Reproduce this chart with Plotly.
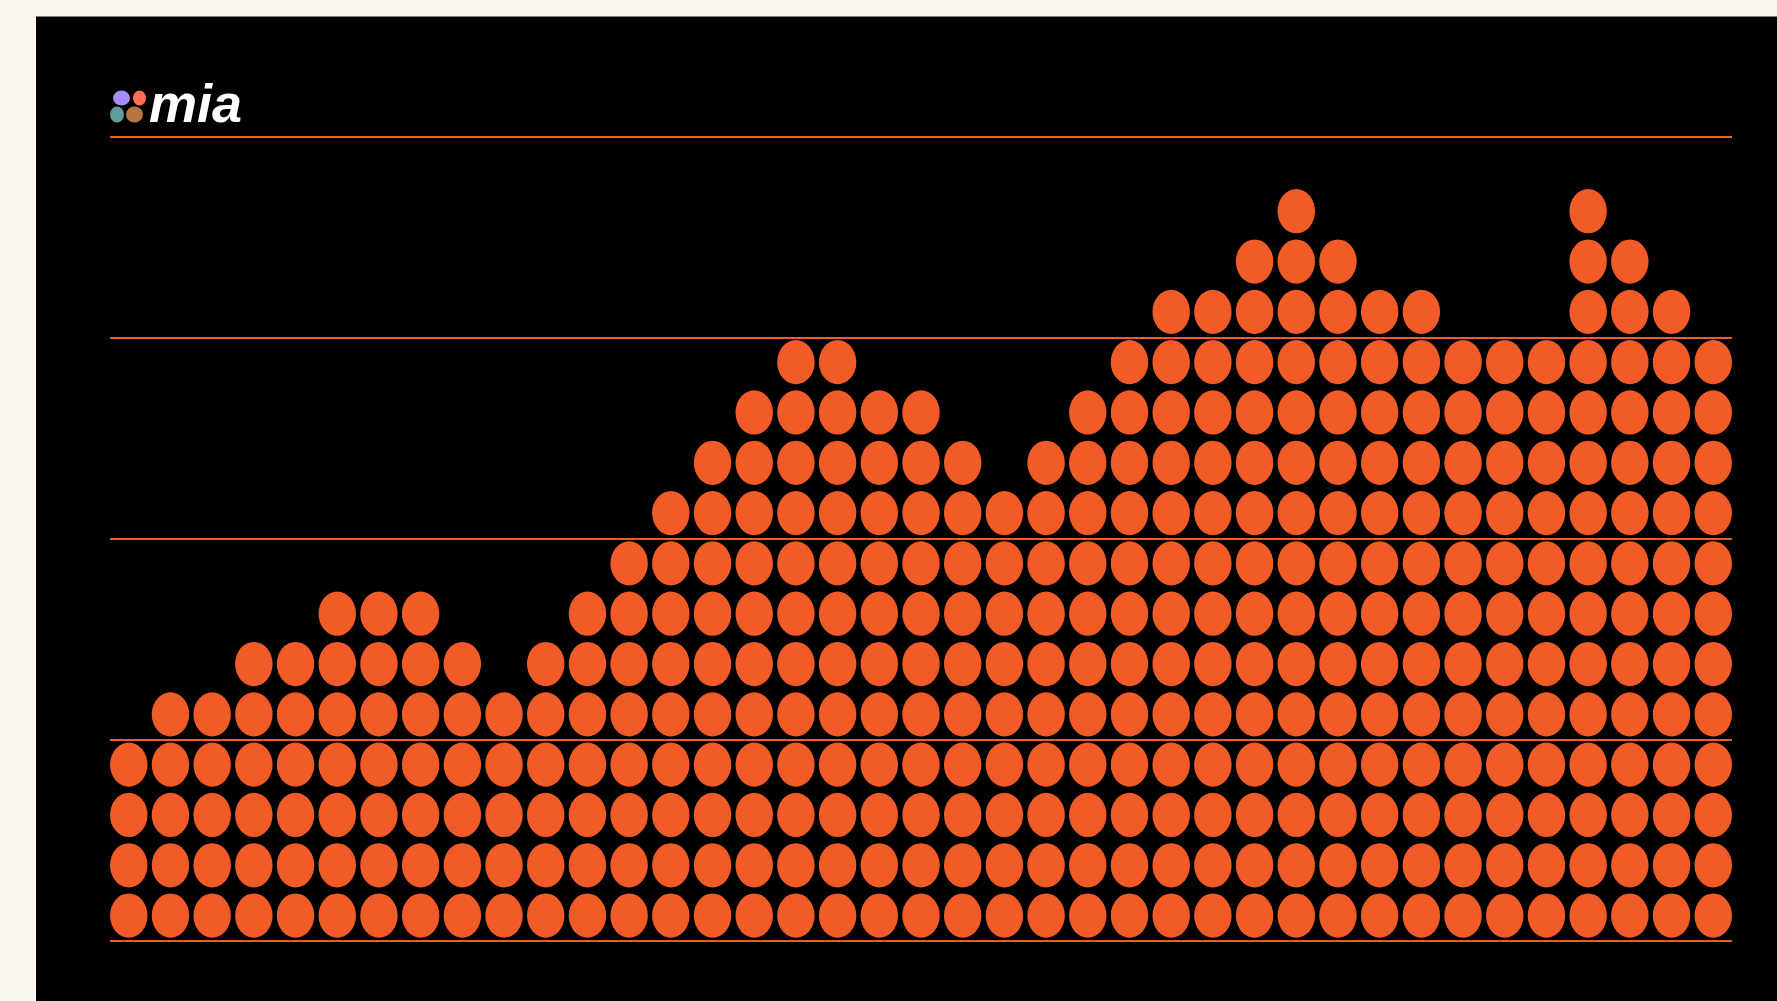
import plotly.graph_objects as go

# ---- data ----
columns = list(range(1, 40))
counts = [4, 5, 5, 6, 6, 7, 7, 7, 6, 5, 6, 7, 8, 9, 10, 11, 12, 12, 11, 11,
          10, 9, 10, 11, 12, 13, 13, 14, 15, 14, 13, 13, 12, 12, 12, 15, 14, 13, 12]
grid_values = [0, 4, 8, 12, 16]

ORANGE = "#F15B28"
BG = "#FCF8F1"
W, H = 1777, 1001
PL, PR = 110, 1732          # plot area left / right px
Y0PX, Y16PX = 941.7, 137.0   # pixel of y=0 and y=16
pad = 0.05
upx = (Y0PX - Y16PX) / 16.0
top_px = Y16PX - pad * upx
bot_px = Y0PX + pad * upx


def px2paper(px, py):
    return (px - PL) / (PR - PL), (bot_px - py) / (bot_px - top_px)


fig = go.Figure()

# invisible hover trace for column totals
fig.add_trace(go.Scatter(
    x=[i for i in range(len(counts))], y=[c for c in counts],
    mode="markers", marker=dict(size=1, color="rgba(0,0,0,0)"),
    text=[str(c) for c in counts], hovertemplate="%{text}<extra></extra>",
    showlegend=False))

shapes = []
# black panel
x0, y0 = px2paper(36, 17)
x1, y1 = px2paper(W + 5, H + 5)
shapes.append(dict(type="rect", xref="paper", yref="paper", x0=x0, x1=x1, y0=y1, y1=y0,
                   fillcolor="#000000", line=dict(width=0), layer="below"))

# dots
hw, hh, off = 0.449, 0.44, 0.515
for i, c in enumerate(counts):
    for k in range(c):
        shapes.append(dict(type="circle", xref="x", yref="y",
                           x0=i - hw, x1=i + hw, y0=k + off - hh, y1=k + off + hh,
                           fillcolor=ORANGE, line=dict(width=0), layer="above"))

# logo dots
logo = [
    (113, 130, 91, 106, "#A78BF6"),
    (133, 146, 91, 106, "#FF7052"),
    (110, 124, 107, 123, "#5F9C9C"),
    (126, 143, 107, 123, "#B5763F"),
]
for a, b, c, d, col in logo:
    xa, yc = px2paper(a, c)
    xb, yd = px2paper(b, d)
    shapes.append(dict(type="circle", xref="paper", yref="paper", x0=xa, x1=xb, y0=yd, y1=yc,
                       fillcolor=col, line=dict(width=0)))

tx, ty = px2paper(147, 123)
fig.add_annotation(x=tx, y=ty, xref="paper", yref="paper", xanchor="left", yanchor="bottom",
                   text="<b><i>mia</i></b>", showarrow=False, yshift=-12,
                   font=dict(family="Liberation Sans", size=54, color="#FFFFFF"))

fig.update_layout(
    width=W, height=H,
    margin=dict(l=PL, r=W - PR, t=top_px, b=H - bot_px, pad=0),
    paper_bgcolor=BG, plot_bgcolor="#000000",
    shapes=shapes,
    showlegend=False,
    xaxis=dict(range=[-0.45, len(counts) - 1 + 0.45], showgrid=False, zeroline=False,
               showticklabels=False, ticks="", fixedrange=True),
    yaxis=dict(range=[-pad, 16 + pad], tickvals=grid_values, showgrid=True,
               gridcolor=ORANGE, gridwidth=1.5, zeroline=False,
               showticklabels=False, ticks="", fixedrange=True),
)

fig.write_html("out.html", config={"displayModeBar": False},
               post_script="document.body.style.margin='0';document.body.style.background='%s';" % BG)
